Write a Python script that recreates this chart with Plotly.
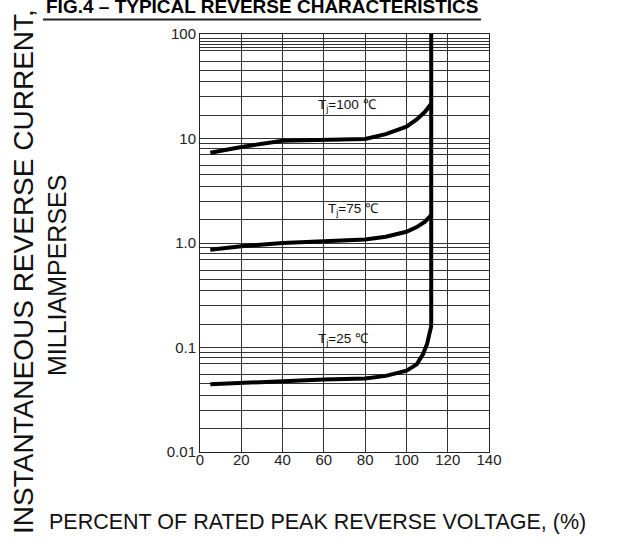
import math
import plotly.graph_objects as go

# ---- data ----
x_100 = [5, 20, 40, 60, 70, 80, 90, 100, 105, 109, 112]
y_100 = [7.3, 8.3, 9.5, 9.7, 9.7, 9.9, 11.0, 13.0, 15.2, 18.0, 21.5]

x_75 = [5, 20, 40, 60, 80, 90, 100, 105, 109, 112]
y_75 = [0.86, 0.93, 1.0, 1.05, 1.08, 1.15, 1.28, 1.42, 1.6, 1.85]

x_25 = [5, 20, 40, 60, 80, 90, 100, 105, 108, 110, 111.5, 112, 112]
y_25 = [0.0445, 0.046, 0.0478, 0.0495, 0.0505, 0.0535, 0.06, 0.069, 0.086, 0.108, 0.145, 0.16, 100]

curve_labels = ["T<sub>j</sub>=100 ℃", "T<sub>j</sub>=75 ℃", "T<sub>j</sub>=25 ℃"]
label_x = [71.5, 74.5, 69.5]
label_y = [20.5, 2.07, 0.1205]

y_tick_vals = [0.01, 0.1, 1, 10, 100]
y_tick_text = ["0.01", "0.1", "1.0", "10", "100"]
x_tick_vals = [0, 20, 40, 60, 80, 100, 120, 140]

title_text = "FIG.4 – TYPICAL REVERSE CHARACTERISTICS"
y_title_1 = "INSTANTANEOUS REVERSE CURRENT,"
y_title_2 = "MILLIAMPERSES"
x_title = "PERCENT OF RATED PEAK REVERSE VOLTAGE, (%)"

# irregular minor grid as drawn in the reference (fractions of each decade top)
grid_fracs = [0.9, 0.8, 0.7, 0.55, 0.45, 0.35, 0.25, 0.167]
minor_vals = []
for top in [100, 10, 1, 0.1]:
    minor_vals += [top * f for f in grid_fracs]
minor_vals += [85, 75]

FONT = "Liberation Sans, Arial, sans-serif"
fig = go.Figure()
for xs, ys in [(x_100, y_100), (x_75, y_75), (x_25, y_25)]:
    fig.add_trace(go.Scatter(x=xs, y=ys, mode="lines",
                             line=dict(color="black", width=4),
                             showlegend=False, hoverinfo="skip"))

for t, lx, ly in zip(curve_labels, label_x, label_y):
    fig.add_annotation(x=lx, y=math.log10(ly), text=t, showarrow=False,
                       font=dict(family=FONT, size=13.5, color="#111"),
                       xanchor="center", yanchor="middle")

L, R, T, B = 200, 140, 34, 98
W, H = 629, 550
pw, ph = W - L - R, H - T - B

def px_x(px):
    return (px - L) / pw

def px_y(py):
    return (H - B - py) / ph

fig.add_annotation(x=px_x(262), y=px_y(6), xref="paper", yref="paper",
                   text="<b>" + title_text + "</b>", showarrow=False,
                   font=dict(family=FONT, size=19, color="black"),
                   xanchor="center", yanchor="middle")
fig.add_shape(type="line", xref="paper", yref="paper",
              x0=px_x(43), x1=px_x(481), y0=px_y(19.5), y1=px_y(19.5),
              line=dict(color="#222", width=2))
fig.add_annotation(x=px_x(23), y=px_y(272), xref="paper", yref="paper",
                   text=y_title_1, showarrow=False, textangle=-90,
                   font=dict(family=FONT, size=28, color="#111"),
                   xanchor="center", yanchor="middle")
fig.add_annotation(x=px_x(57), y=px_y(276), xref="paper", yref="paper",
                   text=y_title_2, showarrow=False, textangle=-90,
                   font=dict(family=FONT, size=25, color="#111"),
                   xanchor="center", yanchor="middle")
fig.add_annotation(x=px_x(317), y=px_y(522), xref="paper", yref="paper",
                   text=x_title, showarrow=False,
                   font=dict(family=FONT, size=21.5, color="#111"),
                   xanchor="center", yanchor="middle")

fig.update_xaxes(range=[0, 140], tickvals=x_tick_vals, showgrid=True,
                 gridcolor="#333", gridwidth=1, zeroline=False,
                 showline=True, mirror=True, linecolor="#222", linewidth=1,
                 ticks="", ticklabelstandoff=-6,
                 tickfont=dict(family=FONT, size=15, color="#222"))
fig.update_yaxes(type="log", range=[-2, 2], tickvals=y_tick_vals,
                 ticktext=y_tick_text, showgrid=True, gridcolor="#333",
                 gridwidth=1, zeroline=False, showline=True, mirror=True,
                 linecolor="#222", linewidth=1, ticks="",
                 tickfont=dict(family=FONT, size=15, color="#222"),
                 minor=dict(tickvals=minor_vals, showgrid=True,
                            gridcolor="#333", gridwidth=1))
fig.update_layout(width=W, height=H, margin=dict(l=L, r=R, t=T, b=B),
                  paper_bgcolor="white", plot_bgcolor="white")
fig.write_html("out.html")
